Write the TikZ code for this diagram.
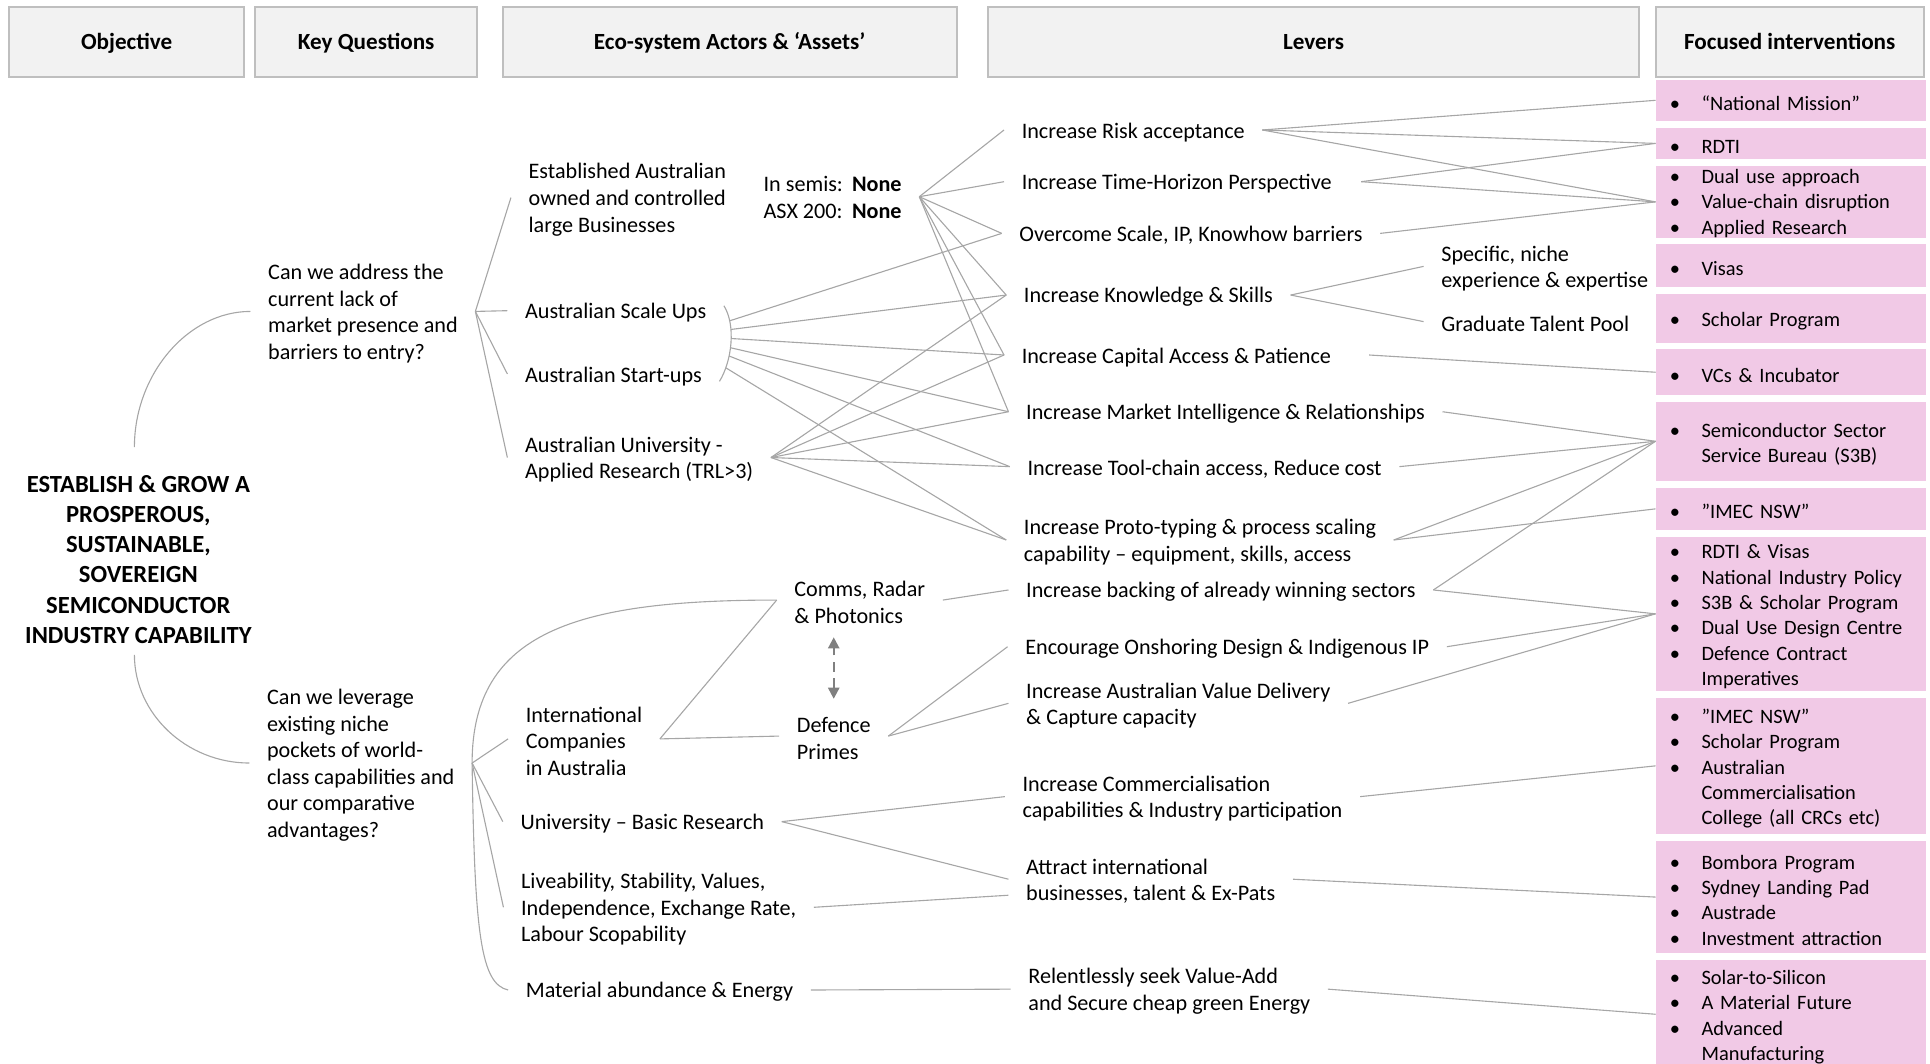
\documentclass[tikz,border=0pt]{standalone}
\usepackage{fontspec}
\setmainfont{Carlito}
\usetikzlibrary{arrows.meta}

\definecolor{headfill}{RGB}{242,242,242}
\definecolor{headline}{RGB}{191,191,191}
\definecolor{ivfill}{RGB}{241,201,230}
\definecolor{linkgray}{RGB}{166,166,166}
\definecolor{arrowgray}{RGB}{128,128,128}

\newcommand{\ivb}{\makebox[10.5pt][l]{\hspace{-2.4pt}\textbullet}}
\newcommand{\ivc}{\hspace*{10.5pt}}
\newcommand{\firstln}{\rule{0pt}{8pt}}

\tikzset{
  hdr/.style={draw=headline, fill=headfill, line width=0.8pt, inner sep=0pt, minimum height=28.15pt, text height=7.5pt, text depth=1.5pt, font=\fontsize{9.4}{11}\selectfont\bfseries},
  txt/.style={anchor=west, inner xsep=7pt, inner ysep=0pt, align=left, font=\fontsize{9}{10.8}\selectfont},
  txt1/.style={txt, text height=8pt},
  objtxt/.style={align=center, inner sep=0pt, font=\fontsize{10}{12.2}\selectfont\bfseries},
  ivbox/.style={anchor=west, fill=ivfill, inner xsep=8pt, inner ysep=0pt, text width=93.5pt, align=left, text height=8.2pt, font=\fontsize{8.3}{10.3}\selectfont},
  link/.style={draw=linkgray, line width=0.45pt},
  twoway/.style={draw=arrowgray, line width=0.9pt, dash pattern=on 4pt off 2.7pt, {Triangle[length=4.5pt,width=4.5pt]}-{Triangle[length=4.5pt,width=4.5pt]}},
}

\begin{document}
\begin{tikzpicture}[x=0.5pt,y=-0.5pt]
\useasboundingbox (0,0) rectangle (1568,864);

% Header boxes
\node[hdr, minimum width=95.6pt] (hobj) at (102.9,34.2) {Objective};
\node[hdr, minimum width=90.15pt] (hkey) at (297.5,34.2) {Key Questions};
\node[hdr, minimum width=184.45pt] (heco) at (592.8,34.2) {Eco-system Actors \& ‘Assets’};
\node[hdr, minimum width=264.2pt] (hlev) at (1067.2,34.2) {Levers};
\node[hdr, minimum width=109pt] (hfoc) at (1454,34.2) {Focused interventions};

% Objective and questions
\node[objtxt] (obj) at (112.4,454.6) {ESTABLISH \& GROW A\\PROSPEROUS,\\SUSTAINABLE,\\SOVEREIGN\\SEMICONDUCTOR\\INDUSTRY CAPABILITY};
\node[txt] (q1) at (203.5,253) {\firstln Can we address the\\current lack of\\market presence and\\barriers to entry?};
\node[txt] (q2) at (202.6,619.9) {\firstln Can we leverage\\existing niche\\pockets of world-\\class capabilities and\\our comparative\\advantages?};

% Actors and assets
\node[txt] (established) at (415.1,160.5) {\firstln Established Australian\\owned and controlled\\large Businesses};
\node[txt] (semis) at (606,159.8) {\begin{tabular}{@{}l@{\hspace{3.7pt}}l@{}}\rule{0pt}{9.9pt}In semis: & \textbf{None}\\ASX 200: & \textbf{None}\end{tabular}};
\node[txt1] (scaleups) at (412.2,252.4) {Australian Scale Ups};
\node[txt1] (startups) at (412.2,303.8) {Australian Start-ups};
\node[txt] (univapplied) at (412.2,371.7) {\firstln Australian University -\\Applied Research (TRL>3)};
\node[txt] (comms) at (631,487.5) {\firstln Comms, Radar\\\& Photonics};
\node[txt] (defence) at (633,598) {\firstln Defence\\Primes};
\node[txt] (international) at (412.8,600.3) {\firstln International\\Companies\\in Australia};
\node[txt1] (univbasic) at (408.5,667.5) {University – Basic Research};
\node[txt] (liveability) at (409,737.1) {\firstln Liveability, Stability, Values,\\Independence, Exchange Rate,\\Labour Scopability};
\node[txt1] (material) at (412.8,804.3) {Material abundance \& Energy};

% Levers
\node[txt1] (risk) at (815.7,105.6) {Increase Risk acceptance};
\node[txt1] (horizon) at (815.7,147.6) {Increase Time-Horizon Perspective};
\node[txt1] (scale) at (813.8,189.6) {Overcome Scale, IP, Knowhow barriers};
\node[txt1] (knowledge) at (817.5,239.7) {Increase Knowledge \& Skills};
\node[txt1] (capital) at (815.7,288.4) {Increase Capital Access \& Patience};
\node[txt1] (market) at (819.3,334.5) {Increase Market Intelligence \& Relationships};
\node[txt1] (toolchain) at (820.4,379.1) {Increase Tool-chain access, Reduce cost};
\node[txt] (proto) at (817.5,438.7) {\firstln Increase Proto-typing \& process scaling\\capability – equipment, skills, access};
\node[txt1] (backing) at (819.3,479.3) {Increase backing of already winning sectors};
\node[txt1] (onshore) at (818.6,525.4) {Encourage Onshoring Design \& Indigenous IP};
\node[txt] (value) at (819.3,571.4) {\firstln Increase Australian Value Delivery\\\& Capture capacity};
\node[txt] (commerc) at (816.4,647.2) {\firstln Increase Commercialisation\\capabilities \& Industry participation};
\node[txt] (attract) at (819.3,714.3) {\firstln Attract international\\businesses, talent \& Ex-Pats};
\node[txt] (relentless) at (821.1,803.6) {\firstln Relentlessly seek Value-Add\\and Secure cheap green Energy};
\node[txt] (specific) at (1156.6,216.4) {\firstln Specific, niche\\experience \& expertise};
\node[txt1] (graduate) at (1156.6,261.3) {Graduate Talent Pool};

% Focused interventions
\node[ivbox, minimum height=16.5pt] (iv1) at (1345,81.5) {\ivb “National Mission”};
\node[ivbox, minimum height=12.5pt] (iv2) at (1345,116.5) {\ivb RDTI};
\node[ivbox, minimum height=29pt, text height=6.9pt] (iv3) at (1345,164) {\ivb Dual use approach\\\ivb Value-chain disruption\\\ivb Applied Research};
\node[ivbox, minimum height=17.35pt] (iv4) at (1345,215.8) {\ivb Visas};
\node[ivbox, minimum height=19.75pt] (iv5) at (1345,258.6) {\ivb Scholar Program};
\node[ivbox, minimum height=18.55pt] (iv6) at (1345,302.4) {\ivb VCs \& Incubator};
\node[ivbox, minimum height=31.95pt] (iv7) at (1345,358.5) {\ivb Semiconductor Sector\\\ivc Service Bureau (S3B)};
\node[ivbox, minimum height=17.2pt] (iv8) at (1345,413.4) {\ivb ”IMEC NSW”};
\node[ivbox, minimum height=62.55pt] (iv9) at (1345,498.7) {\ivb RDTI \& Visas\\\ivb National Industry Policy\\\ivb S3B \& Scholar Program\\\ivb Dual Use Design Centre\\\ivb Defence Contract\\\ivc Imperatives};
\node[ivbox, minimum height=55.5pt] (iv10) at (1345,622.2) {\ivb ”IMEC NSW”\\\ivb Scholar Program\\\ivb Australian\\\ivc Commercialisation\\\ivc College (all CRCs etc)};
\node[ivbox, minimum height=45.5pt] (iv11) at (1345,728.8) {\ivb Bombora Program\\\ivb Sydney Landing Pad\\\ivb Austrade\\\ivb Investment attraction};
\node[ivbox, minimum height=44pt] (iv12) at (1345,824) {\ivb Solar-to-Silicon\\\ivb A Material Future\\\ivb Advanced\\\ivc Manufacturing};

%Curves from the objective
\draw[link] ([xshift=-1.6pt,yshift=11.5pt]obj.north) .. controls +(0,-59) and +(-51,0) .. (q1.west);
\draw[link] ([xshift=-1.6pt,yshift=-4.5pt]obj.south) .. controls +(0,48) and +(-51,0) .. (q2.west);

%Straight Lines: first question
\draw[link] (q1.east) -- (established.west);
\draw[link] (q1.east) -- (scaleups.west);
\draw[link] (q1.east) -- (startups.west);
\draw[link] (q1.east) -- (univapplied.west);

%Straight Lines: semis
\draw[link] (semis.east) -- (risk.west);
\draw[link] (semis.east) -- (horizon.west);
\draw[link] (semis.east) -- (scale.west);
\draw[link] (semis.east) -- (knowledge.west);
\draw[link] (semis.east) -- (capital.west);
\draw[link] (semis.east) -- (market.west);

%Bracket round scale ups and start-ups
\draw[link] ([yshift=2pt]scaleups.east) .. controls +(10,16) and +(10,-16) .. ([yshift=-3pt]startups.east)
  coordinate[pos=0.22] (br1) coordinate[pos=0.33] (br2) coordinate[pos=0.44] (br3)
  coordinate[pos=0.55] (br4) coordinate[pos=0.65] (br5) coordinate[pos=0.8] (br6);
\draw[link] (br1) -- (scale.west);
\draw[link] (br2) -- (knowledge.west);
\draw[link] (br3) -- (capital.west);
\draw[link] (br4) -- (market.west);
\draw[link] (br5) -- (toolchain.west);
\draw[link] (br6) -- (proto.west);

%Straight Lines: applied research
\draw[link] (univapplied.east) -- (knowledge.west);
\draw[link] (univapplied.east) -- (capital.west);
\draw[link] (univapplied.east) -- (market.west);
\draw[link] (univapplied.east) -- (toolchain.west);
\draw[link] (univapplied.east) -- (proto.west);

%Straight Lines: levers to interventions
\draw[link] (risk.east) -- (iv1.west);
\draw[link] (risk.east) -- (iv2.west);
\draw[link] (risk.east) -- (iv3.west);
\draw[link] ([xshift=4.8pt]horizon.east) -- (iv2.west);
\draw[link] ([xshift=4.8pt]horizon.east) -- (iv3.west);
\draw[link] (scale.east) -- (iv3.west);
\draw[link] (knowledge.east) -- (specific.west);
\draw[link] (knowledge.east) -- (graduate.west);
\draw[link] ([xshift=8.3pt]capital.east) -- (iv6.west);
\draw[link] (market.east) -- (iv7.west);
\draw[link] (toolchain.east) -- (iv7.west);
\draw[link] (proto.east) -- (iv7.west);
\draw[link] (proto.east) -- (iv8.west);
\draw[link] (backing.east) -- (iv7.west);
\draw[link] (backing.east) -- (iv9.west);
\draw[link] (onshore.east) -- (iv9.west);
\draw[link] (value.east) -- (iv9.west);
\draw[link] (commerc.east) -- (iv10.west);
\draw[link] (attract.east) -- (iv11.west);
\draw[link] (relentless.east) -- (iv12.west);

%Second question
\draw[link] (q2.east) .. controls +(0,-107) and +(-162,0) .. (comms.west);
\draw[link] (q2.east) -- (international.west);
\draw[link] (q2.east) -- (univbasic.west);
\draw[link] (q2.east) -- (liveability.west);
\draw[link] (q2.east) .. controls +(2,140) and +(-22,-5) .. (material.west);

%Straight Lines: international and research assets
\draw[link] (international.east) -- (comms.west);
\draw[link] (international.east) -- (defence.west);
\draw[link] (comms.east) -- (backing.west);
\draw[link] (defence.east) -- (onshore.west);
\draw[link] (defence.east) -- (value.west);
\draw[link] (univbasic.east) -- (commerc.west);
\draw[link] (univbasic.east) -- (attract.west);
\draw[link] (liveability.east) -- ([yshift=-6.5pt]attract.west);
\draw[link] (material.east) -- (relentless.west);

%Dashed two-way arrow
\draw[twoway] ([yshift=5.5pt]defence.north) -- ++(0,-50);

\end{tikzpicture}
\end{document}
